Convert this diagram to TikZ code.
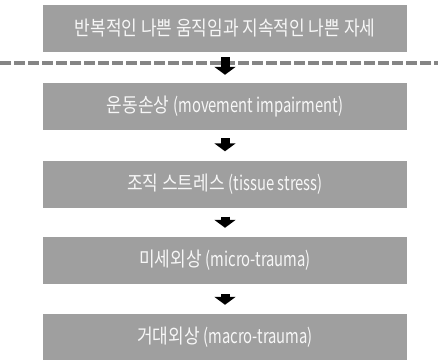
\documentclass[tikz,border=0pt]{standalone}
\usepackage{fontspec}
\setmainfont{Noto Sans CJK KR}
\usetikzlibrary{arrows.meta}
\definecolor{boxgray}{HTML}{9F9F9F}
\definecolor{dashgray}{HTML}{858585}
\definecolor{boxtext}{HTML}{F7F7F7}
\newcommand{\kortxt}[1]{\scalebox{0.85}[1]{#1}}
\newcommand{\lattxt}[1]{\scalebox{0.74}[1]{#1}}
\begin{document}
\begin{tikzpicture}[x=1pt,y=-1pt,
  stepbox/.style={fill=boxgray, draw=none, minimum width=364pt, minimum height=47pt, inner sep=0pt,
    text=boxtext, font=\fontsize{20}{22}\selectfont},
  blockarrow/.style={line width=9pt, -{Triangle[width=21pt,length=8pt]}, black}
]
\useasboundingbox (0,0) rectangle (438,359);
\node[stepbox] (b1) at (225,28.5) {\kortxt{반복적인 나쁜 움직임과 지속적인 나쁜 자세}};
\node[stepbox] (b2) at (225,106.5) {\kortxt{운동손상}\hspace{4pt}\lattxt{(movement impairment)}};
\node[stepbox] (b3) at (225,184) {\kortxt{조직 스트레스}\hspace{4pt}\lattxt{(tissue stress)}};
\node[stepbox] (b4) at (225,260.5) {\kortxt{미세외상}\hspace{4pt}\lattxt{(micro-trauma)}};
\node[stepbox] (b5) at (225,337.5) {\kortxt{거대외상}\hspace{4pt}\lattxt{(macro-trauma)}};
\coordinate (dl) at (0,63);
\coordinate (dr) at (438,63);
\draw[dashgray, line width=4pt, dash pattern=on 11pt off 3pt] (dl) -- (dr);
\draw[blockarrow] ([yshift=-5pt]b1.south) -- ([yshift=8pt]b2.north);
\draw[blockarrow] ([yshift=-8pt]b2.south) -- ([yshift=9pt]b3.north);
\draw[blockarrow] ([yshift=-9pt]b3.south) -- ([yshift=9pt]b4.north);
\draw[blockarrow] ([yshift=-10pt]b4.south) -- ([yshift=9pt]b5.north);
\end{tikzpicture}
\end{document}
